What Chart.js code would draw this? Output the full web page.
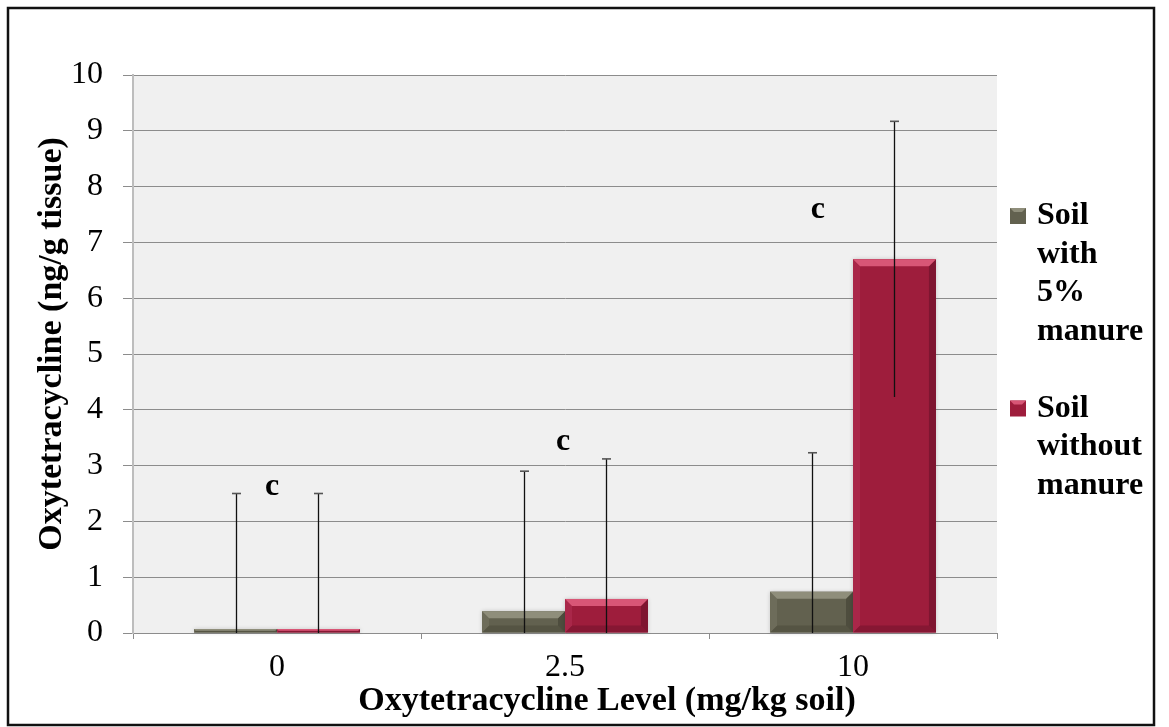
<!DOCTYPE html>
<html>
<head>
<meta charset="utf-8">
<script src="https://cdn.jsdelivr.net/npm/chart.js@4.4.1/dist/chart.umd.min.js"></script>
<style>
  html, body { margin: 0; padding: 0; background: #ffffff; }
  #wrap { width: 1169px; height: 727px; position: relative; }
</style>
</head>
<body>
<div id="wrap"><canvas id="chart" width="1169" height="727"></canvas></div>
<script>
// Oxytetracycline levels in soil (mg/kg) and measured tissue concentration (ng/g)
const categories = ['0', '2.5', '10'];

const manureLabel = ['Soil', 'with', '5%', 'manure'];
const noManureLabel = ['Soil', 'without', 'manure'];

const manureValues = [0.07, 0.39, 0.74];
const noManureValues = [0.07, 0.61, 6.70];

// Error bar half-widths (±)
const manureErrors = [2.43, 2.51, 2.49];
const noManureErrors = [2.43, 2.51, 2.47];

// Significance letters, one per soil level
const letters = ['c', 'c', 'c'];

const xTitle = 'Oxytetracycline Level (mg/kg soil)';
const yTitle = 'Oxytetracycline (ng/g tissue)';

const yMin = 0, yMax = 10, yStep = 1;

const FONT = '"Liberation Serif", "Times New Roman", serif';

// Where each letter sits: shift along the category (fraction of its width) and height in axis units
const letterPlacement = [
  { dx: -0.017, y: 2.62 },
  { dx: -0.007, y: 3.42 },
  { dx: -0.122, y: 7.58 }
];

const palette = [
  { face: '#62614f', top: '#8f8e7b', left: '#6d6c5a', right: '#4e4d3e', bottom: '#555443' },
  { face: '#9e1d3c', top: '#d85676', left: '#a92749', right: '#7e1530', bottom: '#861733' }
];

const plotBackground = {
  id: 'plotBackground',
  beforeDraw(chart) {
    const { ctx, chartArea: a } = chart;
    ctx.save();
    ctx.fillStyle = '#ffffff';
    ctx.fillRect(0, 0, chart.width, chart.height);
    ctx.fillStyle = '#f0f0f0';
    ctx.fillRect(a.left, a.top, a.right - a.left, a.bottom - a.top);
    ctx.restore();
  }
};

// Bevelled edges on each column
const bevelBars = {
  id: 'bevelBars',
  afterDatasetsDraw(chart) {
    const ctx = chart.ctx;
    chart.data.datasets.forEach((ds, di) => {
      const meta = chart.getDatasetMeta(di);
      const c = palette[di];
      meta.data.forEach(el => {
        const p = el.getProps(['x', 'y', 'base', 'width'], true);
        const l = p.x - p.width / 2, r = p.x + p.width / 2;
        const t = Math.min(p.y, p.base), bt = Math.max(p.y, p.base);
        const h = bt - t;
        const b = Math.min(7, h / 2);
        ctx.save();
        ctx.shadowColor = 'rgba(0,0,0,0.18)';
        ctx.shadowBlur = 4;
        ctx.fillStyle = c.face;
        ctx.fillRect(l, t, r - l, h);
        ctx.restore();
        ctx.save();
        const poly = (pts, col) => {
          ctx.beginPath();
          ctx.moveTo(pts[0][0], pts[0][1]);
          for (let i = 1; i < pts.length; i++) ctx.lineTo(pts[i][0], pts[i][1]);
          ctx.closePath();
          ctx.fillStyle = col;
          ctx.fill();
        };
        poly([[l, bt], [l + b, bt - b], [r - b, bt - b], [r, bt]], c.bottom);
        poly([[r, t], [r, bt], [r - b, bt - b], [r - b, t + b]], c.right);
        poly([[l, t], [l + b, t + b], [l + b, bt - b], [l, bt]], c.left);
        poly([[l, t], [r, t], [r - b, t + b], [l + b, t + b]], c.top);
        ctx.restore();
      });
    });
  }
};

// Vertical error bars, clipped at the axis minimum
const errorBars = {
  id: 'errorBars',
  afterDatasetsDraw(chart) {
    const ctx = chart.ctx;
    const yScale = chart.scales.y;
    chart.data.datasets.forEach((ds, di) => {
      const meta = chart.getDatasetMeta(di);
      meta.data.forEach((el, i) => {
        const v = ds.data[i], e = ds.errors[i];
        const x = Math.round(el.x) + 0.5;
        const hiV = Math.min(yMax, v + e), loV = Math.max(yMin, v - e);
        const yHi = yScale.getPixelForValue(hiV);
        const yLo = yScale.getPixelForValue(loV);
        ctx.save();
        ctx.strokeStyle = '#111111';
        ctx.lineWidth = 1.3;
        ctx.beginPath();
        ctx.moveTo(x, yHi);
        ctx.lineTo(x, yLo);
        ctx.stroke();
        ctx.strokeStyle = '#555555';
        ctx.lineWidth = 1.6;
        ctx.beginPath();
        ctx.moveTo(x - 4.5, yHi);
        ctx.lineTo(x + 4.5, yHi);
        ctx.stroke();
        ctx.restore();
      });
    });
  }
};

// Significance letters above each soil level
const letterLabels = {
  id: 'letterLabels',
  afterDatasetsDraw(chart) {
    const ctx = chart.ctx;
    const xs = chart.scales.x, ys = chart.scales.y;
    const catW = (xs.right - xs.left) / categories.length;
    ctx.save();
    ctx.fillStyle = '#000000';
    ctx.font = 'bold 32px ' + FONT;
    ctx.textAlign = 'center';
    ctx.textBaseline = 'middle';
    letters.forEach((txt, i) => {
      const pl = letterPlacement[i];
      const x = xs.getPixelForValue(i) + pl.dx * catW;
      const y = ys.getPixelForValue(pl.y);
      ctx.fillText(txt, x, y);
    });
    ctx.restore();
  }
};

// Axis titles: horizontal one centred on the full frame, vertical one beside the value axis
const axisTitles = {
  id: 'axisTitles',
  afterDraw(chart) {
    const ctx = chart.ctx;
    const a = chart.chartArea;
    ctx.save();
    ctx.fillStyle = '#000000';
    ctx.font = 'bold 34px ' + FONT;
    ctx.textAlign = 'center';
    ctx.textBaseline = 'middle';
    ctx.fillText(xTitle, 607, a.bottom + 68);
    ctx.translate(52, (a.top + a.bottom) / 2 - 10);
    ctx.rotate(-Math.PI / 2);
    ctx.fillText(yTitle, 0, 0);
    ctx.restore();
  }
};

// Right-hand legend with wrapped entry names
const sideLegend = {
  id: 'sideLegend',
  afterDraw(chart) {
    const ctx = chart.ctx;
    const a = chart.chartArea;
    const lineH = 38.5;
    const boxX = a.right + 13, boxS = 16, textX = a.right + 40;
    let y = 216;
    ctx.save();
    ctx.font = 'bold 32px ' + FONT;
    ctx.textAlign = 'left';
    ctx.textBaseline = 'middle';
    chart.data.datasets.forEach((ds, di) => {
      const c = palette[di];
      ctx.fillStyle = c.face;
      ctx.fillRect(boxX, y - boxS / 2, boxS, boxS);
      ctx.fillStyle = c.top;
      ctx.beginPath();
      ctx.moveTo(boxX, y - boxS / 2);
      ctx.lineTo(boxX + boxS, y - boxS / 2);
      ctx.lineTo(boxX + boxS - 4, y - boxS / 2 + 4);
      ctx.lineTo(boxX + 4, y - boxS / 2 + 4);
      ctx.closePath();
      ctx.fill();
      ctx.fillStyle = '#000000';
      ds.label.forEach((line, li) => {
        ctx.fillText(line, textX, y + li * lineH);
      });
      y += ds.label.length * lineH + lineH;
    });
    ctx.restore();
  }
};

const frame = {
  id: 'frame',
  afterDraw(chart) {
    const ctx = chart.ctx;
    ctx.save();
    ctx.strokeStyle = '#111111';
    ctx.lineWidth = 2.5;
    ctx.strokeRect(8, 8, 1146, 717);
    ctx.restore();
  }
};

new Chart(document.getElementById('chart'), {
  type: 'bar',
  data: {
    labels: categories,
    datasets: [
      { label: manureLabel, data: manureValues, errors: manureErrors,
        backgroundColor: 'rgba(0,0,0,0)', borderWidth: 0 },
      { label: noManureLabel, data: noManureValues, errors: noManureErrors,
        backgroundColor: 'rgba(0,0,0,0)', borderWidth: 0 }
    ]
  },
  options: {
    responsive: false,
    animation: false,
    devicePixelRatio: 1,
    categoryPercentage: 0.576,
    barPercentage: 1.0,
    layout: { padding: { top: 75, right: 172, bottom: 0, left: 0 } },
    plugins: {
      legend: { display: false },
      tooltip: { enabled: false },
      title: { display: false }
    },
    scales: {
      x: {
        afterFit(scale) { scale.height = 94; },
        grid: { offset: true, drawOnChartArea: false, tickLength: 6, color: '#8c8c8c' },
        border: { color: '#8c8c8c', width: 1 },
        ticks: { color: '#000000', padding: 9, font: { family: FONT, size: 32 } }
      },
      y: {
        min: yMin,
        max: yMax,
        afterFit(scale) { scale.width = 133; },
        grid: { color: '#8c8c8c', lineWidth: 1, tickLength: 10, tickColor: '#8c8c8c' },
        border: { color: '#bdbdbd', width: 2 },
        ticks: { stepSize: yStep, color: '#000000', padding: 20, font: { family: FONT, size: 32 } }
      }
    }
  },
  plugins: [plotBackground, bevelBars, errorBars, letterLabels, axisTitles, sideLegend, frame]
});
</script>
</body>
</html>
